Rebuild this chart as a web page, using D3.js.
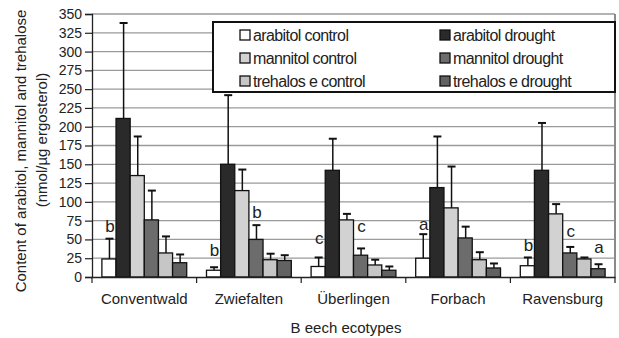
<!DOCTYPE html>
<html><head><meta charset="utf-8">
<script src="https://cdn.jsdelivr.net/npm/d3@7"></script>
<style>
body{margin:0;background:#fff;}
text{font-family:"Liberation Sans",Arial,sans-serif;fill:#222;}
</style></head>
<body><svg id="chart" width="619" height="338"></svg>
<script>
const categories = ["Conventwald","Zwiefalten","Überlingen","Forbach","Ravensburg"];
const seriesNames = ["arabitol control","arabitol drought","mannitol control","mannitol drought","trehalos e control","trehalos e drought"];
const arabitolControl = [24, 9, 14, 25, 15];
const arabitolDrought = [211, 150, 142, 119, 142];
const mannitolControl = [135, 115, 76, 92, 84];
const mannitolDrought = [76, 50, 29, 52, 32];
const trehaloseControl = [32, 23, 16, 23, 24];
const trehaloseDrought = [19, 22, 9, 12, 11];
const arabitolControlErr = [51, 13, 26, 57, 26];
const arabitolDroughtErr = [338, 242, 184, 187, 205];
const mannitolControlErr = [187, 143, 84, 147, 97];
const mannitolDroughtErr = [115, 69, 38, 67, 40];
const trehaloseControlErr = [54, 31, 23, 33, 26];
const trehaloseDroughtErr = [30, 29, 14, 18, 17];
const yTicks = [0,25,50,75,100,125,150,175,200,225,250,275,300,325,350];
// significance letters: [category, series index, letter, value level of baseline]
const letterCats = ["Conventwald","Zwiefalten","Zwiefalten","Überlingen","Überlingen","Forbach","Ravensburg","Ravensburg","Ravensburg"];
const letterSeries = [0,0,3,0,3,0,0,3,5];
const letterText = ["b","b","b","c","c","a","b","c","a"];
const letterLevel = [60, 28.5, 79, 44.5, 59.5, 63, 35, 53, 32.5];

const values = [arabitolControl, arabitolDrought, mannitolControl, mannitolDrought, trehaloseControl, trehaloseDrought];
const errs = [arabitolControlErr, arabitolDroughtErr, mannitolControlErr, mannitolDroughtErr, trehaloseControlErr, trehaloseDroughtErr];
const colors = ["#ffffff","#2a2a2a","#d2d2d2","#6c6c6c","#c6c6c6","#626262"];

const svg = d3.select("#chart");
const m = {l:92, r:4, t:14, b:61};
const W = 619, H = 338;
const x0 = d3.scaleBand().domain(categories).range([m.l, W-m.r]).paddingInner(0).paddingOuter(0);
const x1 = d3.scaleBand().domain(d3.range(6)).range([0, x0.bandwidth()]).paddingInner(0).paddingOuter(0.7);
const y = d3.scaleLinear().domain([0,350]).range([H-m.b, m.t]);

// gridlines
svg.append("g").selectAll("line").data(yTicks.filter(d=>d>0)).join("line")
  .attr("x1", m.l).attr("x2", W-m.r).attr("y1", d=>y(d)).attr("y2", d=>y(d))
  .attr("stroke", "#9a9a9a").attr("stroke-width", 1.3);
// right border
svg.append("line").attr("x1", W-m.r).attr("x2", W-m.r).attr("y1", m.t).attr("y2", y(0))
  .attr("stroke", "#8a8a8a").attr("stroke-width", 2);

// bars
const data = [];
categories.forEach((c,ci)=>values.forEach((s,si)=>data.push({c, si, v:s[ci], e:errs[si][ci]})));
const cxOf = d=>x0(d.c)+x1(d.si)+x1.bandwidth()/2+0.5;
const g = svg.append("g");
g.selectAll("line.err").data(data).join("line").attr("class","err")
  .attr("x1", cxOf).attr("x2", cxOf)
  .attr("y1", d=>y(d.v)).attr("y2", d=>y(d.e)).attr("stroke","#111").attr("stroke-width",1.5);
g.selectAll("line.cap").data(data).join("line").attr("class","cap")
  .attr("x1", d=>cxOf(d)-4).attr("x2", d=>cxOf(d)+4)
  .attr("y1", d=>y(d.e)).attr("y2", d=>y(d.e)).attr("stroke","#111").attr("stroke-width",2);
g.selectAll("rect").data(data).join("rect")
  .attr("x", d=>x0(d.c)+x1(d.si)).attr("width", x1.bandwidth())
  .attr("y", d=>y(d.v)).attr("height", d=>y(0)-y(d.v))
  .attr("fill", d=>colors[d.si]).attr("stroke","#111").attr("stroke-width",1.3);

// axes
const ya = svg.append("g").attr("transform",`translate(${m.l},0)`)
  .call(d3.axisLeft(y).tickValues(yTicks).tickSize(7).tickPadding(3));
ya.select(".domain").attr("stroke","#222").attr("stroke-width",1.3);
ya.selectAll(".tick line").attr("stroke","#222").attr("stroke-width",1.2);
ya.selectAll(".tick text").style("font-size","14px").attr("fill","#222").style("font-family","Liberation Sans, Arial, sans-serif");

const xa = svg.append("g").attr("transform",`translate(0,${y(0)})`)
  .call(d3.axisBottom(x0).tickSize(0).tickPadding(0).tickFormat(()=>""));
xa.select(".domain").attr("stroke","#222").attr("stroke-width",1.3);
// boundary ticks
const bounds = categories.map(c=>x0(c)).concat([W-m.r]);
svg.append("g").selectAll("line").data(bounds).join("line")
  .attr("x1", d=>d).attr("x2", d=>d).attr("y1", y(0)).attr("y2", y(0)+6)
  .attr("stroke","#222").attr("stroke-width",1.2);
svg.append("g").selectAll("text").data(categories).join("text")
  .attr("x", d=>x0(d)+x0.bandwidth()/2).attr("y", y(0)+27)
  .attr("text-anchor","middle").style("font-size","15px").text(d=>d);

// letters
svg.append("g").selectAll("text").data(letterText).join("text")
  .attr("x",(d,i)=>x0(letterCats[i])+x1(letterSeries[i])+x1.bandwidth()/2+1)
  .attr("y",(d,i)=>y(letterLevel[i]))
  .attr("text-anchor","middle").style("font-size","17px").text(d=>d);

// axis titles
svg.append("text").attr("transform","translate(26,151) rotate(-90)").attr("text-anchor","middle")
  .style("font-size","15px").text("Content of arabitol, mannitol and trehalose");
svg.append("text").attr("transform","translate(47,140) rotate(-90)").attr("text-anchor","middle")
  .style("font-size","15px").text("(nmol/µg ergosterol)");
svg.append("text").attr("x",346).attr("y",333).attr("text-anchor","middle")
  .style("font-size","15px").text("B eech ecotypes");

// legend
const lg = svg.append("g");
lg.append("rect").attr("x",213).attr("y",22).attr("width",402).attr("height",70)
  .attr("fill","#fff").attr("stroke","#111").attr("stroke-width",2);
const lcolX = [240, 440], lrowY = [35, 58, 81];
const legendItems = [0,2,4,1,3,5];
legendItems.forEach((si,k)=>{
  const cx = lcolX[Math.floor(k/3)], cy = lrowY[k%3];
  lg.append("rect").attr("x",cx).attr("y",cy-5).attr("width",10).attr("height",10)
    .attr("fill",colors[si]).attr("stroke","#111").attr("stroke-width",1.3);
  lg.append("text").attr("x",cx+13).attr("y",cy+5.5).style("font-size","16px")
    .style("letter-spacing","-0.6px").text(seriesNames[si]);
});
</script></body></html>
